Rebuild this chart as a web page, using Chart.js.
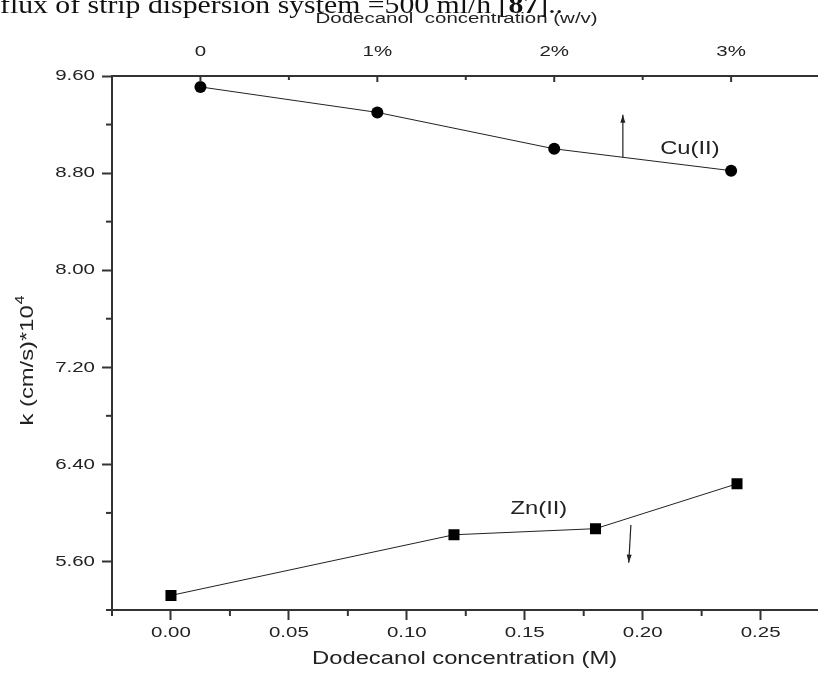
<!DOCTYPE html>
<html>
<head>
<meta charset="utf-8">
<script src="https://cdn.jsdelivr.net/npm/chart.js@4.4.0/dist/chart.umd.min.js"></script>
<style>
  html, body { margin: 0; padding: 0; background: #fff; }
  #wrap { position: relative; width: 825px; height: 685px; overflow: hidden; }
  #chart { position: absolute; left: 0; top: 0; }
  #caption {
    position: absolute; left: 0; top: -8px;
    font: 26px/26px "Liberation Serif", "Times New Roman", serif;
    white-space: nowrap; color: #111; transform-origin: 0 0;
  }
</style>
</head>
<body>
<div id="wrap">
  <canvas id="chart" width="825" height="685"></canvas>
  <div id="caption">flux of strip dispersion system =500 ml/h [<b>87</b>]..</div>
</div>
<script>
// bottom axis: Zn(II) vs dodecanol (M)
const zincConc = [0, 0.12, 0.18, 0.24];
const zincK = [5.32, 5.82, 5.87, 6.24];
// top axis: Cu(II) vs dodecanol (w/v, %)
const wvConc = [0, 1, 2, 3];
const copperK = [9.51, 9.30, 9.00, 8.82];

const molarTicks = [0, 0.05, 0.10, 0.15, 0.20, 0.25];
const molarMinor = [-0.025, 0.025, 0.075, 0.125, 0.175, 0.225];
const wvTicks = [0, 1, 2, 3];
const wvLabels = ['0', '1%', '2%', '3%'];
const wvMinor = [0.5, 1.5, 2.5];
const kTicks = [5.6, 6.4, 7.2, 8.0, 8.8, 9.6];
const kMinor = [5.2, 6.0, 6.8, 7.6, 8.4, 9.2];

const X_MIN = -0.025, X_MAX = 0.274;
// w/v axis lines up so that 0% sits at 0.0125 M and 1% spans 0.075 M
const WV_AT_ZERO = 0.0125, WV_STEP = 0.075;

const labels = [
  { text: 'Cu(II)', x: 0.220, y: 9.00 },
  { text: 'Zn(II)', x: 0.156, y: 6.03 },
];
const arrows = [
  { from: [0.1916, 8.93], to: [0.1916, 9.28] },
  { from: [0.1950, 5.90], to: [0.1941, 5.59] },
];

const STRETCH = 1.32; // the source figure has wide lettering
const AXIS = '#333';
const INK = '#222';
const FONT = '"Liberation Sans", Arial, sans-serif';

// caption line cut off at the top of the page
const cap = document.getElementById('caption');
cap.style.transform = `scaleX(${563 / cap.offsetWidth})`;

const canvas = document.getElementById('chart');
const ctx = canvas.getContext('2d');
// widen all text along its own direction
const rawFill = ctx.fillText.bind(ctx);
const rawMeasure = ctx.measureText.bind(ctx);
ctx.fillText = (text, x, y) => {
  ctx.save();
  ctx.translate(x, y);
  ctx.scale(STRETCH, 1);
  rawFill(text, 0, 0);
  ctx.restore();
};
ctx.measureText = (text) => {
  const m = rawMeasure(text);
  return {
    width: m.width * STRETCH,
    actualBoundingBoxAscent: m.actualBoundingBoxAscent,
    actualBoundingBoxDescent: m.actualBoundingBoxDescent,
  };
};

function seg(c, x1, y1, x2, y2) {
  c.beginPath();
  c.moveTo(x1, y1);
  c.lineTo(x2, y2);
  c.stroke();
}

const extras = {
  id: 'extras',
  afterDraw(chart) {
    const { chartArea: a, scales: { x, x2, y } } = chart;
    const c = chart.ctx;
    c.save();
    c.strokeStyle = AXIS;
    c.lineWidth = 2;

    // minor ticks
    molarMinor.forEach((v) => {
      const px = x.getPixelForValue(v);
      seg(c, px, a.bottom, px, a.bottom + 6);
    });
    kMinor.forEach((v) => {
      const py = y.getPixelForValue(v);
      seg(c, a.left - 6, py, a.left, py);
    });
    // top axis ticks point inward
    wvTicks.forEach((v) => {
      const px = x2.getPixelForValue(v);
      seg(c, px, a.top, px, a.top + 6);
    });
    wvMinor.forEach((v) => {
      const px = x2.getPixelForValue(v);
      seg(c, px, a.top, px, a.top + 4);
    });

    // axis titles
    const mid = (a.left + a.right) / 2;
    c.fillStyle = INK;
    c.textAlign = 'center';
    c.textBaseline = 'middle';
    c.font = `18px ${FONT}`;
    c.fillText('Dodecanol concentration (M)', mid, a.bottom + 49);
    c.font = `15.5px ${FONT}`;
    c.fillText('Dodecanol  concentration (w/v)', mid - 8, 19);

    // y title with superscript
    c.save();
    c.translate(28, (a.top + a.bottom) / 2 + 18);
    c.rotate(-Math.PI / 2);
    c.textAlign = 'left';
    c.font = `18px ${FONT}`;
    const base = 'k (cm/s)*10';
    const w1 = c.measureText(base).width;
    c.font = `12px ${FONT}`;
    const w2 = c.measureText('4').width;
    const start = -(w1 + w2) / 2;
    c.font = `18px ${FONT}`;
    c.fillText(base, start, 0);
    c.font = `12px ${FONT}`;
    c.fillText('4', start + w1 + 1, -7);
    c.restore();

    // series labels
    c.font = `18px ${FONT}`;
    labels.forEach((l) => {
      c.fillText(l.text, x.getPixelForValue(l.x), y.getPixelForValue(l.y));
    });

    // arrows
    c.strokeStyle = INK;
    c.lineWidth = 1.2;
    arrows.forEach((ar) => {
      const x1 = x.getPixelForValue(ar.from[0]);
      const y1 = y.getPixelForValue(ar.from[1]);
      const xe = x.getPixelForValue(ar.to[0]);
      const ye = y.getPixelForValue(ar.to[1]);
      seg(c, x1, y1, xe, ye);
      const ang = Math.atan2(ye - y1, xe - x1);
      c.beginPath();
      c.moveTo(xe, ye);
      c.lineTo(xe - 8 * Math.cos(ang) + 2.5 * Math.sin(ang), ye - 8 * Math.sin(ang) - 2.5 * Math.cos(ang));
      c.lineTo(xe - 8 * Math.cos(ang) - 2.5 * Math.sin(ang), ye - 8 * Math.sin(ang) + 2.5 * Math.cos(ang));
      c.closePath();
      c.fillStyle = INK;
      c.fill();
    });
    c.restore();
  },
};

new Chart(ctx, {
  type: 'line',
  data: {
    datasets: [
      {
        label: 'Cu(II)',
        xAxisID: 'x2',
        data: wvConc.map((v, i) => ({ x: v, y: copperK[i] })),
        borderColor: INK,
        borderWidth: 1,
        pointStyle: 'circle',
        pointRadius: 6,
        pointBackgroundColor: '#000',
        pointBorderColor: '#000',
        pointBorderWidth: 0,
      },
      {
        label: 'Zn(II)',
        xAxisID: 'x',
        data: zincConc.map((v, i) => ({ x: v, y: zincK[i] })),
        borderColor: INK,
        borderWidth: 1,
        pointStyle: 'rect',
        pointRadius: 7.8,
        pointBackgroundColor: '#000',
        pointBorderColor: '#000',
        pointBorderWidth: 0,
      },
    ],
  },
  options: {
    responsive: false,
    animation: false,
    events: [],
    layout: { padding: 0 },
    plugins: { legend: { display: false }, tooltip: { enabled: false } },
    scales: {
      x: {
        type: 'linear',
        position: 'bottom',
        min: X_MIN,
        max: X_MAX,
        afterBuildTicks: (axis) => { axis.ticks = molarTicks.map((v) => ({ value: v })); },
        afterFit: (s) => { s.height = 75; s.paddingLeft = 0; s.paddingRight = 0; },
        border: { display: true, color: AXIS, width: 2 },
        grid: { drawOnChartArea: false, tickLength: 10, tickColor: AXIS, tickWidth: 2 },
        ticks: {
          color: INK, padding: 3, maxRotation: 0, autoSkip: false,
          font: { family: FONT, size: 15.5 },
          callback: (v) => Number(v).toFixed(2),
        },
      },
      x2: {
        type: 'linear',
        position: 'top',
        min: (X_MIN - WV_AT_ZERO) / WV_STEP,
        max: (X_MAX - WV_AT_ZERO) / WV_STEP,
        afterBuildTicks: (axis) => { axis.ticks = wvTicks.map((v) => ({ value: v })); },
        afterFit: (s) => { s.height = 76; s.paddingLeft = 0; s.paddingRight = 0; },
        border: { display: true, color: AXIS, width: 2 },
        grid: { drawOnChartArea: false, drawTicks: false },
        ticks: {
          color: INK, padding: 15, maxRotation: 0, autoSkip: false,
          font: { family: FONT, size: 15.5 },
          callback: (v) => wvLabels[wvTicks.indexOf(v)],
        },
      },
      y: {
        type: 'linear',
        position: 'left',
        min: 5.2,
        max: 9.6,
        afterBuildTicks: (axis) => { axis.ticks = kTicks.map((v) => ({ value: v })); },
        afterFit: (s) => { s.width = 112; s.paddingTop = 0; s.paddingBottom = 0; },
        border: { display: true, color: AXIS, width: 2 },
        grid: { drawOnChartArea: false, tickLength: 10, tickColor: AXIS, tickWidth: 2 },
        ticks: {
          color: INK, padding: 7, autoSkip: false,
          font: { family: FONT, size: 15.5 },
          callback: (v) => Number(v).toFixed(2),
        },
      },
    },
  },
  plugins: [extras],
});
</script>
</body>
</html>
